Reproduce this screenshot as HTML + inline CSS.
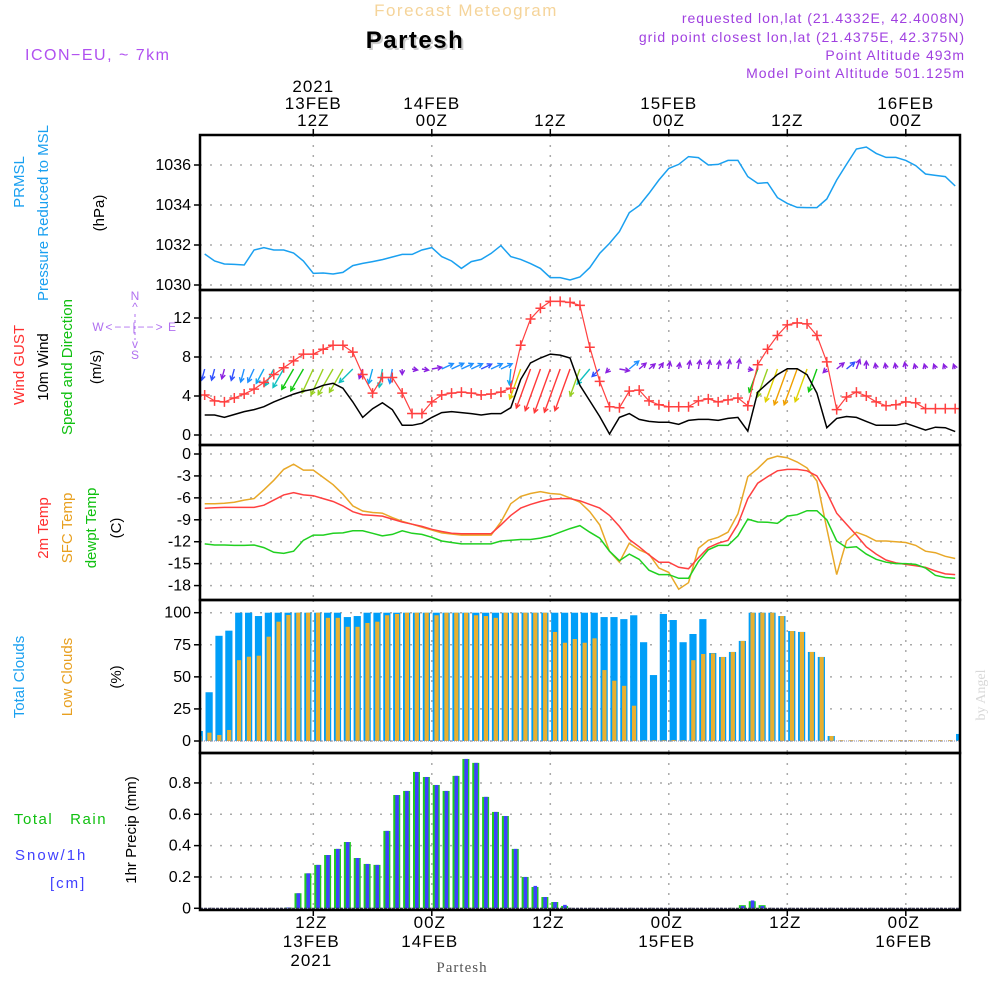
<!DOCTYPE html>
<html><head><meta charset="utf-8"><style>
html,body{margin:0;padding:0;background:#fff;}
svg{display:block;font-family:"Liberation Sans",sans-serif;}
</style></head><body>
<svg id="chart" width="1000" height="1000" viewBox="0 0 1000 1000">
<defs>
<clipPath id="c1"><rect x="200" y="135" width="760" height="155"/></clipPath>
<clipPath id="c2"><rect x="200" y="290" width="760" height="155"/></clipPath>
<clipPath id="c3"><rect x="200" y="445" width="760" height="155"/></clipPath>
<clipPath id="c4"><rect x="200" y="600" width="760" height="153"/></clipPath>
<clipPath id="c5"><rect x="200" y="753" width="760" height="157"/></clipPath>
</defs>
<text x="466" y="16" text-anchor="middle" font-size="17" fill="#f5d49a" letter-spacing="1.5">Forecast Meteogram</text>
<text x="415" y="48" text-anchor="middle" font-size="24" font-weight="bold" fill="#000" letter-spacing="1.5" style="text-shadow:2px 2px 0 #ccc">Partesh</text>
<text x="25" y="60" font-size="16" fill="#b050f0" letter-spacing="1.5">ICON−EU, ~ 7km</text>
<g font-size="14" fill="#a040e0" text-anchor="end" letter-spacing="1">
<text x="965" y="23">requested lon,lat (21.4332E, 42.4008N)</text>
<text x="965" y="42">grid point closest lon,lat (21.4375E, 42.375N)</text>
<text x="965" y="60">Point Altitude 493m</text>
<text x="965" y="78">Model Point Altitude 501.125m</text>
</g>
<text transform="translate(985,695) rotate(-90)" text-anchor="middle" font-family="Liberation Serif,serif" font-size="14" fill="#d8d8d8">by Angel</text>
<text x="462" y="972" text-anchor="middle" font-family="Liberation Serif,serif" font-size="15" fill="#555" letter-spacing="1">Partesh</text>
<g id="grid"></g>
<g id="marks"></g>
<g id="frame"></g>
<g id="labels" font-size="15" fill="#000"></g>
<g font-size="15">
<text transform="translate(24,182) rotate(-90)" text-anchor="middle" fill="#1aa0f0">PRMSL</text>
<text transform="translate(48,213) rotate(-90)" text-anchor="middle" fill="#1aa0f0">Pressure Reduced to MSL</text>
<text transform="translate(104,213) rotate(-90)" text-anchor="middle" fill="#000">(hPa)</text>
<text transform="translate(24,365) rotate(-90)" text-anchor="middle" fill="#ff3030">Wind GUST</text>
<text transform="translate(48,367) rotate(-90)" text-anchor="middle" fill="#000">10m Wind</text>
<text transform="translate(72,367) rotate(-90)" text-anchor="middle" fill="#10c010">Speed and Direction</text>
<text transform="translate(101,367) rotate(-90)" text-anchor="middle" fill="#000">(m/s)</text>
<text transform="translate(48,528) rotate(-90)" text-anchor="middle" fill="#ff3030">2m Temp</text>
<text transform="translate(72,528) rotate(-90)" text-anchor="middle" fill="#e8a020">SFC Temp</text>
<text transform="translate(96,528) rotate(-90)" text-anchor="middle" fill="#10c010">dewpt Temp</text>
<text transform="translate(121,528) rotate(-90)" text-anchor="middle" fill="#000">(C)</text>
<text transform="translate(24,677) rotate(-90)" text-anchor="middle" fill="#1aa0f0">Total Clouds</text>
<text transform="translate(72,677) rotate(-90)" text-anchor="middle" fill="#e8a020">Low Clouds</text>
<text transform="translate(121,677) rotate(-90)" text-anchor="middle" fill="#000">(%)</text>
<text x="14" y="824" fill="#10c010" letter-spacing="1.5" xml:space="preserve">Total   Rain</text>
<text x="15" y="860" fill="#4040ff" letter-spacing="2">Snow/1h</text>
<text x="50" y="888" fill="#4040ff" letter-spacing="2">[cm]</text>
<text transform="translate(136,830) rotate(-90)" text-anchor="middle" fill="#000">1hr Precip (mm)</text>
</g>
<g font-size="12" fill="#b070f0" text-anchor="middle">
<text x="135" y="300">N</text><text x="135" y="311">^</text>
<text x="98" y="331">W</text><text x="135" y="331" letter-spacing="2">&lt;−−|−−&gt;</text><text x="172" y="331">E</text>
<text x="135" y="348">v</text><text x="135" y="359">S</text>
<line x1="135" y1="314" x2="135" y2="340" stroke="#b070f0" stroke-dasharray="3,3"/>
</g>
</svg>
<script>
const hours = [];
for (let h = 1; h <= 77; h++) hours.push(h);
const pressure = [1031.55,1031.2,1031.05,1031.03,1031.0,1031.75,1031.87,1031.75,1031.75,1031.6,1031.2,1030.58,1030.6,1030.55,1030.63,1030.97,1031.08,1031.17,1031.27,1031.4,1031.53,1031.53,1031.75,1031.87,1031.42,1031.2,1030.83,1031.17,1031.28,1031.58,1031.97,1031.42,1031.28,1031.07,1030.83,1030.37,1030.37,1030.25,1030.4,1030.87,1031.58,1032.08,1032.67,1033.62,1033.97,1034.58,1035.25,1035.83,1036.03,1036.42,1036.37,1036.0,1036.03,1036.23,1036.23,1035.42,1035.08,1035.12,1034.37,1034.08,1033.88,1033.87,1033.87,1034.3,1035.25,1036.03,1036.8,1036.9,1036.58,1036.38,1036.38,1036.23,1035.97,1035.55,1035.48,1035.42,1034.95];
const gust = [4.1,3.5,3.4,3.8,4.2,4.7,5.4,6.2,6.9,7.6,8.3,8.3,8.8,9.2,9.2,8.5,6.2,4.3,5.9,5.9,4.3,2.2,2.2,3.4,4.1,4.3,4.4,4.3,4.1,4.2,4.4,4.8,9.2,11.9,13.0,13.7,13.7,13.6,13.3,9.0,5.5,2.9,2.8,4.5,4.6,3.5,3.1,2.9,2.9,2.9,3.5,3.7,3.4,3.6,3.8,3.0,7.2,8.8,10.2,11.3,11.5,11.4,10.2,7.5,2.6,3.9,4.4,4.0,3.4,3.0,3.1,3.4,3.3,2.7,2.7,2.7,2.7];
const wind = [2.05,2.05,1.8,2.1,2.4,2.6,2.9,3.4,3.8,4.2,4.5,4.7,5.1,5.3,4.8,3.4,1.8,2.7,3.3,2.6,1.0,1.0,1.2,1.8,2.3,2.4,2.3,2.2,2.05,2.2,2.2,2.8,5.7,7.4,7.9,8.3,8.2,7.9,5.1,3.5,1.9,0.1,1.8,2.2,1.6,1.4,1.3,1.3,1.1,1.5,1.6,1.6,1.5,1.7,1.8,0.4,4.4,5.3,6.2,6.8,6.8,6.2,4.3,0.75,1.7,1.9,1.8,1.4,1.0,1.0,1.0,1.2,0.85,0.5,0.8,0.75,0.35];
const windDirTo = [195,195,195,195,195,205,208,208,210,210,210,205,205,210,210,225,200,195,190,190,180,100,100,80,65,65,65,65,65,65,65,185,200,200,200,200,200,200,200,220,225,225,100,50,50,50,35,10,10,10,10,10,10,10,10,100,200,200,200,200,200,200,200,225,50,50,20,0,350,350,350,350,345,345,340,340,340];
const temp2m = [-7.43,-7.34,-7.3,-7.3,-7.3,-7.3,-7.0,-6.3,-5.6,-5.3,-5.6,-5.7,-6.1,-6.5,-7.1,-7.9,-8.3,-8.4,-8.5,-8.9,-9.3,-9.6,-9.9,-10.3,-10.6,-10.85,-10.9,-10.9,-10.9,-10.9,-9.7,-8.4,-7.4,-6.9,-6.5,-6.2,-6.1,-6.1,-6.4,-6.9,-7.4,-8.4,-9.9,-11.7,-12.7,-13.8,-14.8,-14.8,-15.5,-15.7,-14.2,-12.8,-12.2,-11.8,-9.6,-6.1,-4.0,-3.1,-2.3,-2.1,-2.1,-2.3,-3.0,-5.3,-8.1,-9.6,-11.1,-12.7,-13.7,-14.5,-14.9,-15.1,-15.3,-15.5,-16.0,-16.4,-16.5];
const tempSfc = [-6.8,-6.8,-6.75,-6.6,-6.3,-6.1,-4.9,-3.6,-2.1,-1.4,-2.2,-2.2,-3.2,-4.2,-5.5,-7.1,-7.8,-8.0,-8.1,-8.7,-9.2,-9.6,-10.0,-10.4,-10.8,-10.95,-11.1,-11.1,-11.1,-11.1,-9.3,-6.8,-5.8,-5.4,-5.15,-5.4,-5.5,-6.0,-6.6,-7.9,-9.7,-13.3,-14.8,-12.2,-13.1,-13.7,-15.6,-16.2,-18.5,-17.6,-12.9,-11.8,-11.4,-10.7,-8.2,-3.1,-2.0,-0.7,-0.3,-0.5,-1.1,-1.9,-3.7,-10.2,-16.5,-11.9,-10.7,-11.2,-11.9,-11.9,-12.0,-12.1,-12.5,-13.3,-13.5,-14.0,-14.3];
const dewpt = [-12.3,-12.45,-12.45,-12.5,-12.5,-12.45,-12.8,-13.45,-13.6,-13.3,-11.8,-11.1,-11.1,-10.85,-10.8,-10.5,-10.5,-10.85,-11.2,-11.0,-10.5,-10.85,-11.0,-11.4,-11.9,-12.1,-12.3,-12.3,-12.3,-12.3,-11.9,-11.8,-11.7,-11.7,-11.5,-11.2,-10.7,-10.2,-9.8,-10.7,-11.5,-13.3,-14.6,-13.7,-14.4,-15.9,-16.5,-16.5,-17.0,-17.0,-14.7,-13.1,-12.5,-12.5,-11.2,-8.9,-9.3,-9.35,-9.5,-8.5,-8.3,-7.75,-7.75,-9.0,-11.9,-12.8,-12.7,-13.7,-14.4,-14.8,-15.0,-15.0,-15.1,-15.6,-16.6,-16.9,-17.0];
const totalClouds = [7.8,38,82,86,100,100,97.4,100,100,100,100,100,100,100,100,96.6,97.4,100,100,100,100,100,100,100,100,100,100,100,100,100,100,100,100,100,100,100,100,100,100,100,100,96.6,96.6,95,98,77,51.4,99,94.3,77,83.4,95,68.6,65.5,69.4,78,100,100,100,97.4,85.7,85,69.4,65.5,3.9,0,0,0,0,0,0,0,0,0,0,0,0,5.5];
const lowClouds = [3.9,6.5,4.7,8.6,63,65.7,66.5,81.3,93,98.2,100,100,100,96,96,89,89,92,93,98,99,100,100,100,98,100,100,100,98,97.4,96,100,100,100,100,100,85,76.6,79.5,76.6,80,55.3,47,43,27.5,0.3,0.3,0.3,0.8,0,63,67.8,68.3,65.5,69.4,78,100,100,100,97.4,85.7,85,69.4,65.5,3.9,0,0,0,0,0,0,0,0,0,0,0,0,0];
const totalRain = [0,0,0,0,0,0,0,0,0,0.005,0.096,0.223,0.277,0.34,0.379,0.423,0.321,0.283,0.277,0.494,0.723,0.749,0.87,0.838,0.787,0.749,0.845,0.953,0.928,0.711,0.615,0.589,0.379,0.2,0.136,0.072,0.04,0.015,0,0,0,0,0,0,0,0,0,0,0,0,0,0,0,0,0,0.02,0.045,0.02,0,0,0,0,0,0,0,0,0,0,0,0,0,0,0,0,0,0,0,0];
const snow = [0,0,0,0,0,0,0,0,0,0.005,0.096,0.223,0.277,0.34,0.379,0.423,0.321,0.283,0.277,0.494,0.723,0.749,0.87,0.838,0.787,0.749,0.845,0.953,0.928,0.711,0.615,0.589,0.379,0.2,0.143,0.072,0.04,0.022,0,0,0,0,0,0,0,0,0,0,0,0,0,0,0,0,0,0.015,0.05,0.015,0,0,0,0,0,0,0,0,0,0,0,0,0,0,0,0,0,0,0,0];
const presTicks = [1030,1032,1034,1036];
const windTicks = [0,4,8,12];
const tempTicks = [0,-3,-6,-9,-12,-15,-18];
const cloudTicks = [0,25,50,75,100];
const rainTicks = [0,0.2,0.4,0.6,0.8];
const timeTicks = [12,24,36,48,60,72];
const topTimeLabels = [["2021","13FEB","12Z"],["","14FEB","00Z"],["","","12Z"],["","15FEB","00Z"],["","","12Z"],["","16FEB","00Z"]];
const bottomTimeLabels = [["12Z","13FEB","2021"],["00Z","14FEB",""],["12Z","",""],["00Z","15FEB",""],["12Z","",""],["00Z","16FEB",""]];

const NS = "http://www.w3.org/2000/svg";
const X = t => 313.3 + (t - 12) * 9.875;
const yP = v => 285 - (v - 1030) * 20;
const yW = v => 435 - v * 9.75;
const yTemp = v => 454 + (-v) * 7.31;
const yC = v => 741 - v * 1.283;
const yR = v => 908.3 - v * 156.7;
const grid = document.getElementById('grid');
const marks = document.getElementById('marks');
const frame = document.getElementById('frame');
const labels = document.getElementById('labels');

function el(tag, attrs, parent) {
  const e = document.createElementNS(NS, tag);
  for (const k in attrs) e.setAttribute(k, attrs[k]);
  parent.appendChild(e);
  return e;
}
const panels = [
  {top:135,bot:290,ticks:presTicks,y:yP,fmt:v=>String(v),clip:'c1'},
  {top:290,bot:445,ticks:windTicks,y:yW,fmt:v=>String(v),clip:'c2'},
  {top:445,bot:600,ticks:tempTicks,y:yTemp,fmt:v=>String(v),clip:'c3'},
  {top:600,bot:753,ticks:cloudTicks,y:yC,fmt:v=>String(v),clip:'c4'},
  {top:753,bot:910,ticks:rainTicks,y:yR,fmt:v=>v===0?'0':v.toFixed(1),clip:'c5'}
];
panels.forEach((p, pi) => {
  p.ticks.forEach(v => {
    const y = p.y(v);
    const gl = el('line', {x1:200,x2:960,y1:y,y2:y,stroke:'#aaa','stroke-width':1.5,'stroke-dasharray':'2,8'}, grid);
    
    
    const tk = el('line', {x1:194,x2:200,y1:y,y2:y,stroke:'#000','stroke-width':1.5}, frame);
    
    
    const tl = el('text', {x:191,y:y+5,'text-anchor':'end','font-size':16}, labels);
    tl.textContent = p.fmt(v);
    
    
  });
  timeTicks.forEach(t => {
    const x = X(t);
    const vl = el('line', {x1:x,x2:x,y1:p.top,y2:p.bot,stroke:'#aaa','stroke-width':1.5,'stroke-dasharray':'2,8'}, grid);
    
    
  });
  const r = el('rect', {x:200,y:p.top,width:760,height:p.bot-p.top,fill:'none',stroke:'#000','stroke-width':2.5}, frame);
  
  
});
timeTicks.forEach((t, i) => {
  const x = X(t);
  const tt = el('line', {x1:x,x2:x,y1:129,y2:135,stroke:'#000','stroke-width':1.5}, frame);
  
  
  const bt = el('line', {x1:x,x2:x,y1:910,y2:916,stroke:'#000','stroke-width':1.5}, frame);
  
  
  topTimeLabels[i].forEach((s, j) => {
    if (!s) return;
    const tx = el('text', {x:x,y:92+j*17,'text-anchor':'middle','font-size':17,'letter-spacing':1}, labels);
    tx.textContent = s;
    
    
  });
  bottomTimeLabels[i].forEach((s, j) => {
    if (!s) return;
    const tx = el('text', {x:x-2,y:928+j*19,'text-anchor':'middle','font-size':17,'letter-spacing':1}, labels);
    tx.textContent = s;
    
    
  });
});

function line(vals, yf, color, clip, name, w) {
  const pts = vals.map((v, i) => X(hours[i]).toFixed(1) + ',' + yf(v).toFixed(1)).join(' ');
  const pl = el('polyline', {points:pts,fill:'none',stroke:color,'stroke-width':w||1.5,'clip-path':'url(#'+clip+')'}, marks);
  
  
  return pl;
}
line(pressure, yP, '#1aa0f0', 'c1', 'pressure-line');

function windColor(s) {
  if (s < 1.9) return '#8a20e0';
  if (s < 2.15) return '#3050ff';
  if (s < 2.7) return '#2090ff';
  if (s < 3.3) return '#10a8f0';
  if (s < 4.0) return '#10c0c0';
  if (s < 4.6) return '#10c810';
  if (s < 5.5) return '#98d020';
  if (s < 6.3) return '#e0d000';
  if (s < 7.0) return '#f0a000';
  return '#ff3838';
}
wind.forEach((s, i) => {
  const x0 = X(hours[i]);
  const y0 = 369;
  const len = Math.max(5, s * 5.6);
  const a = windDirTo[i] * Math.PI / 180;
  const dx = Math.sin(a), dy = -Math.cos(a);
  const x1 = x0 + dx * len, y1 = y0 + dy * len;
  const col = windColor(s);
  const hx1 = x1 - 5 * (dx * Math.cos(0.5) - dy * Math.sin(0.5));
  const hy1 = y1 - 5 * (dy * Math.cos(0.5) + dx * Math.sin(0.5));
  const hx2 = x1 - 5 * (dx * Math.cos(-0.5) - dy * Math.sin(-0.5));
  const hy2 = y1 - 5 * (dy * Math.cos(-0.5) + dx * Math.sin(-0.5));
  const p = el('path', {d:`M${x0},${y0}L${x1},${y1}M${hx1},${hy1}L${x1},${y1}L${hx2},${hy2}`,stroke:col,'stroke-width':1.4,fill:'none','clip-path':'url(#c2)'}, marks);
  
  
});
line(wind, yW, '#000', 'c2', 'wind-speed-line');
line(gust, yW, '#ff4040', 'c2', 'wind-gust-line', 1.2);
gust.forEach((v, i) => {
  const x = X(hours[i]), y = yW(v);
  const m = el('path', {d:`M${x-5},${y}H${x+5}M${x},${y-5}V${y+5}`,stroke:'#ff4040','stroke-width':1.5,'clip-path':'url(#c2)'}, marks);
  
  
});

line(tempSfc, yTemp, '#e8a828', 'c3', 'sfc-temp-line');
line(temp2m, yTemp, '#ff4040', 'c3', 'temp-2m-line');
line(dewpt, yTemp, '#20d020', 'c3', 'dewpoint-line');

const BX = i => X(i + 0.45);
totalClouds.forEach((v, i) => {
  const x = BX(i);
  if (v > 0) {
    const b = el('rect', {x:x-3.6,y:yC(v),width:7.2,height:yC(0)-yC(v),fill:'#009ef8','clip-path':'url(#c4)'}, marks);
    
    
  }
  const lv = lowClouds[i];
  const h = Math.max(0.8, yC(0) - yC(lv));
  const o = el('rect', {x:x-1.8,y:yC(0)-h,width:4.2,height:h,fill:'#e8b030','clip-path':'url(#c4)'}, marks);
  
  
});
const bl = el('line', {x1:200,x2:960,y1:yC(0),y2:yC(0),stroke:'#88a',"stroke-width":1,'stroke-dasharray':'1,1'}, marks);



totalRain.forEach((v, i) => {
  const x = BX(i);
  if (v > 0) {
    const g = el('rect', {x:x-3.5,y:yR(v),width:7,height:yR(0)-yR(v),fill:'#20cc20','clip-path':'url(#c5)'}, marks);
    
    
  }
  const s = snow[i];
  if (s > 0) {
    const b = el('rect', {x:x-1.5,y:yR(s),width:3.6,height:yR(0)-yR(s),fill:'#4040ff','clip-path':'url(#c5)'}, marks);
    
    
  }
});
const rl = el('line', {x1:200,x2:960,y1:yR(0),y2:yR(0),stroke:'#335',"stroke-width":1.2,'stroke-dasharray':'3,1'}, marks);


</script>
</body></html>
